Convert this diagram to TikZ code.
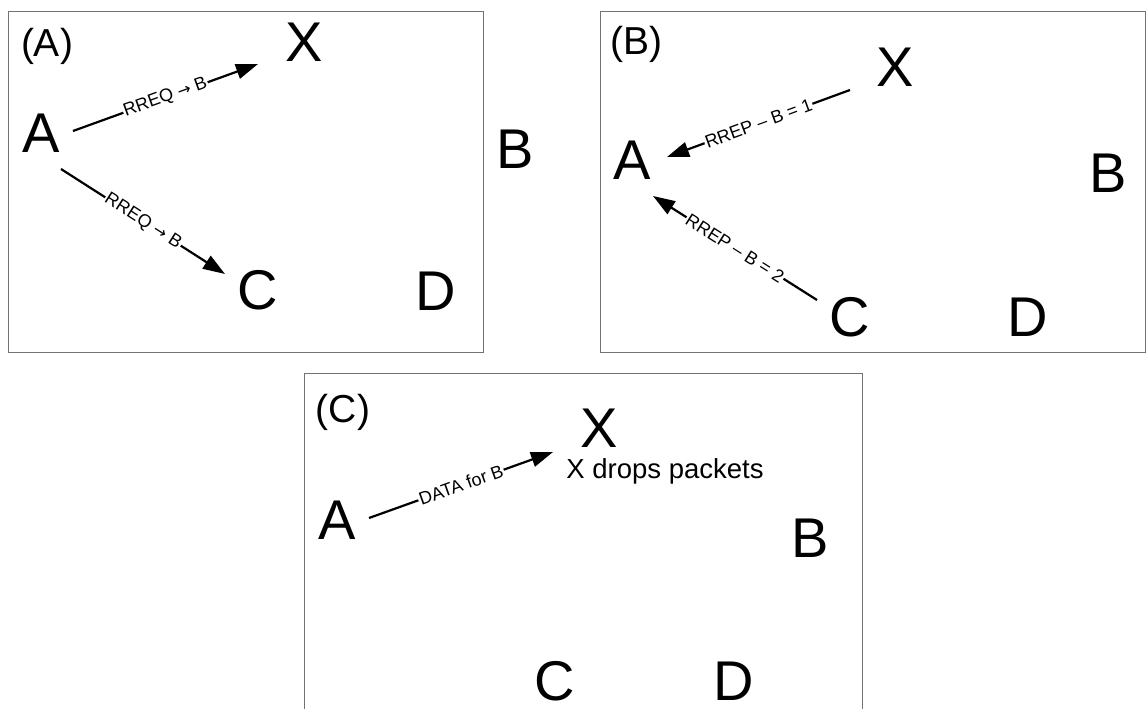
\documentclass[tikz,border=0pt]{standalone}
\usepackage{fontspec}
\setmainfont{Liberation Sans}
\newfontfamily\arrowfont{DejaVu Sans}
\usetikzlibrary{arrows.meta, positioning}

\newcommand{\toward}{{\arrowfont\fontsize{16}{18}\selectfont →}}

\begin{document}
\begin{tikzpicture}[
  x=1pt, y=-1pt,
  >={Triangle[length=22pt, width=15pt]},
  frame/.style={draw=black!55, line width=1pt},
  host/.style={inner sep=0pt, font=\fontsize{56}{60}\selectfont},
  tag/.style={inner sep=0pt, anchor=base, font=\fontsize{39}{40}\selectfont},
  note/.style={inner sep=0pt, anchor=base, font=\fontsize{27.5}{29}\selectfont},
  msg/.style={sloped, midway, fill=white, inner sep=1pt, font=\fontsize{18}{20}\selectfont},
  arr/.style={->, line width=2.2pt},
]

\useasboundingbox (0,0) rectangle (1146,709);

% Frames
\draw[frame] (8.5,12) rectangle (483,352.5);
\draw[frame] (600,12) rectangle (1145,352.5);
\draw[frame] (304,373) rectangle (862,730);

% (A) route request
\node[tag] (tagA) at (47,57) {(A)};
\node[host] (aA) at (41.5,133) {A};
\node[host] (aX) at (304.5,42) {X};
\node[host] (aB) at (515,149) {B};
\node[host] (aC) at (258,290) {C};
\node[host] (aD) at (436,291) {D};

\draw[arr] ([shift={(31.5,-2)}]aA.center) -- ([shift={(-46.5,22)}]aX.center)
  node[msg] {RREQ \toward{} B};
\draw[arr] ([shift={(19.5,36)}]aA.center) -- ([shift={(-33,-16)}]aC.center)
  node[msg] {RREQ \toward{} B};

% (B) route replies
\node[tag] (tagB) at (636,55) {(B)};
\node[host] (bA) at (632,160) {A};
\node[host] (bX) at (895,67) {X};
\node[host] (bB) at (1108,173) {B};
\node[host] (bC) at (850,317) {C};
\node[host] (bD) at (1028,317) {D};

\draw[arr] ([shift={(-45,23)}]bX.center) -- ([shift={(35,-3)}]bA.center)
  node[msg] {RREP – B = 1};
\draw[arr] ([shift={(-33,-17)}]bC.center) -- ([shift={(21,36)}]bA.center)
  node[msg] {RREP – B = 2};

% (C) data forwarding
\node[tag] (tagC) at (343,422) {(C)};
\node[host] (cA) at (337,520) {A};
\node[host] (cX) at (599,428) {X};
\node[host] (cB) at (810,538) {B};
\node[host] (cC) at (555,681) {C};
\node[host] (cD) at (734,681) {D};
\node[note] (drop) at (665,478) {X drops packets};

\draw[arr] ([shift={(32,-2)}]cA.center) -- ([shift={(-46,24)}]cX.center)
  node[msg] {DATA for B};

\end{tikzpicture}
\end{document}
